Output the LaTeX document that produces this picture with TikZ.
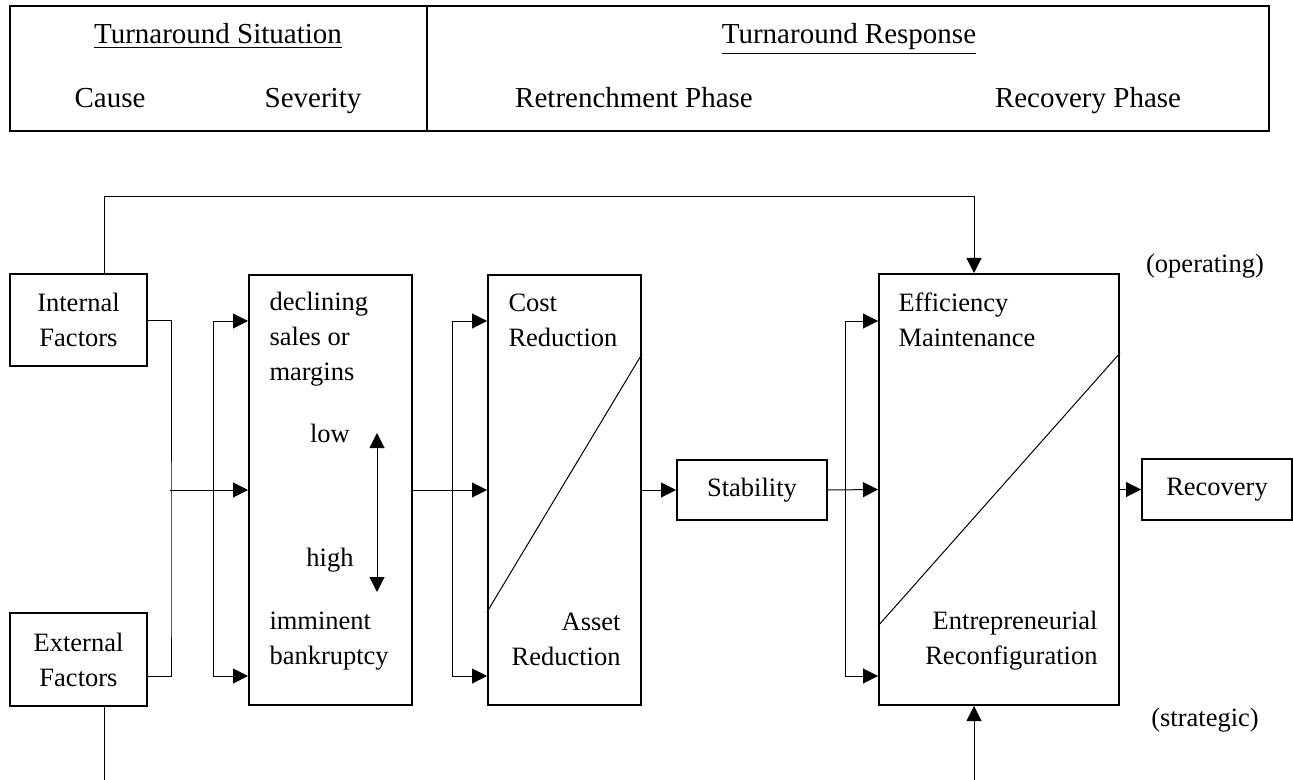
\documentclass[tikz,border=0pt]{standalone}
\usepackage{fontspec}
\setmainfont{Liberation Serif}
\usepackage{tikz}
\usetikzlibrary{arrows.meta}
\tikzset{
	main node/.style={draw,line width=1pt,align=center,inner sep=0pt},
	box text/.style={inner sep=0pt,align=left,anchor=north west},
	box text right/.style={inner sep=0pt,align=right,anchor=north east},
	head text/.style={inner sep=0pt,anchor=base,font=\fontsize{14.5}{17.5}\selectfont}
}

\begin{document}
\begin{tikzpicture}[x=0.5pt,y=-0.5pt,->,>={Triangle[length=7.5pt,width=7.5pt]},
	    line width=0.5pt,font=\fontsize{13.25}{17.5}\selectfont]
	    \useasboundingbox (0,0) rectangle (1293,780);
	    \draw[-,line width=1pt] (10,6) rectangle (1269,131);
	    \draw[-,line width=1pt] (427,6) -- (427,131);
	    \node[head text] (h1) at (218,44) {\underline{Turnaround Situation}};
	    \node[head text] (h2) at (849,44) {\underline{Turnaround Response}};
	    \node[head text] (h3) at (110,108) {Cause};
	    \node[head text] (h4) at (313,108) {Severity};
	    \node[head text] (h5) at (634,108) {Retrenchment Phase};
	    \node[head text] (h6) at (1088,108) {Recovery Phase};
	    \node [main node,minimum width=68.5pt,minimum height=46pt] (1) at (78.5,320) {Internal\\Factors};
	    \node [main node,minimum width=68.5pt,minimum height=46.5pt] (2) at (78.5,659.5) {External\\Factors};
	    \node [main node,minimum width=81.5pt,minimum height=215pt] (3) at (330.5,490) {};
	    \node [main node,minimum width=76.5pt,minimum height=215pt] (4) at (564.5,490) {};
	    \node [main node,minimum width=75pt,minimum height=30pt] (5) at (752,490) {Stability};
	    \node [main node,minimum width=120pt,minimum height=215.5pt] (6) at (999,489.5) {};
	    \node [main node,minimum width=75pt,minimum height=30.5pt] (7) at (1217,489.5) {Recovery};
	    \node[box text] (3a) at (269,292) {declining\\sales or\\margins};
	    \node[box text] (3b) at (269,611) {imminent\\bankruptcy};
	    \node[inner sep=0pt,anchor=base] (3c) at (330,442) {low};
	    \node[inner sep=0pt,anchor=base] (3d) at (330,566) {high};
	    \node[box text] (4a) at (508,293) {Cost\\Reduction};
	    \node[box text right] (4b) at (621,612) {Asset\\Reduction};
	    \node[box text] (6a) at (898,292) {Efficiency\\Maintenance};
	    \node[box text right] (6b) at (1098,611) {Entrepreneurial\\Reconfiguration};
	    \node (op) at (1205,266) {(operating)};
	    \node (st) at (1205,720) {(strategic)};
	    \coordinate (lowtip) at (377,433);
	    \coordinate (hightip) at (377,592);
	    \coordinate (strat) at (974,780);
	    \draw[<->] (lowtip) -- (hightip);
	    \draw[-] (4.west |- 0,612) -- (4.east |- 0,354);
	    \draw[-] (6.west |- 0,626) -- (6.east |- 0,353);
	    \draw ([xshift=12.75pt]1.north) -- ++(0,-76) -| ([xshift=-12.5pt]6.north);
	    \draw[-] ([xshift=12.75pt]2.south) -- ++(0,76);
	    \draw (strat) -- (strat |- 6.south);
	    \draw[-] (1.east) -| (171,600) |- ([yshift=-8.25pt]2.east);
	    \draw ([xshift=-39pt]3.west) -- (3.west);
	    \draw (213,489) |- (3.west |- 0,321);
	    \draw (213,489) |- (3.west |- 0,676);
	    \draw (3.east) -- (4.west);
	    \draw (452,489) |- (4.west |- 0,321);
	    \draw (452,489) |- (4.west |- 0,676);
	    \draw (4.east) -- (5.west);
	    \draw (5.east) -- (6.west);
	    \draw (845,489) |- (6.west |- 0,321);
	    \draw (845,489) |- (6.west |- 0,676);
	    \draw (6.east) -- (7.west);
	  \end{tikzpicture}
\end{document}
